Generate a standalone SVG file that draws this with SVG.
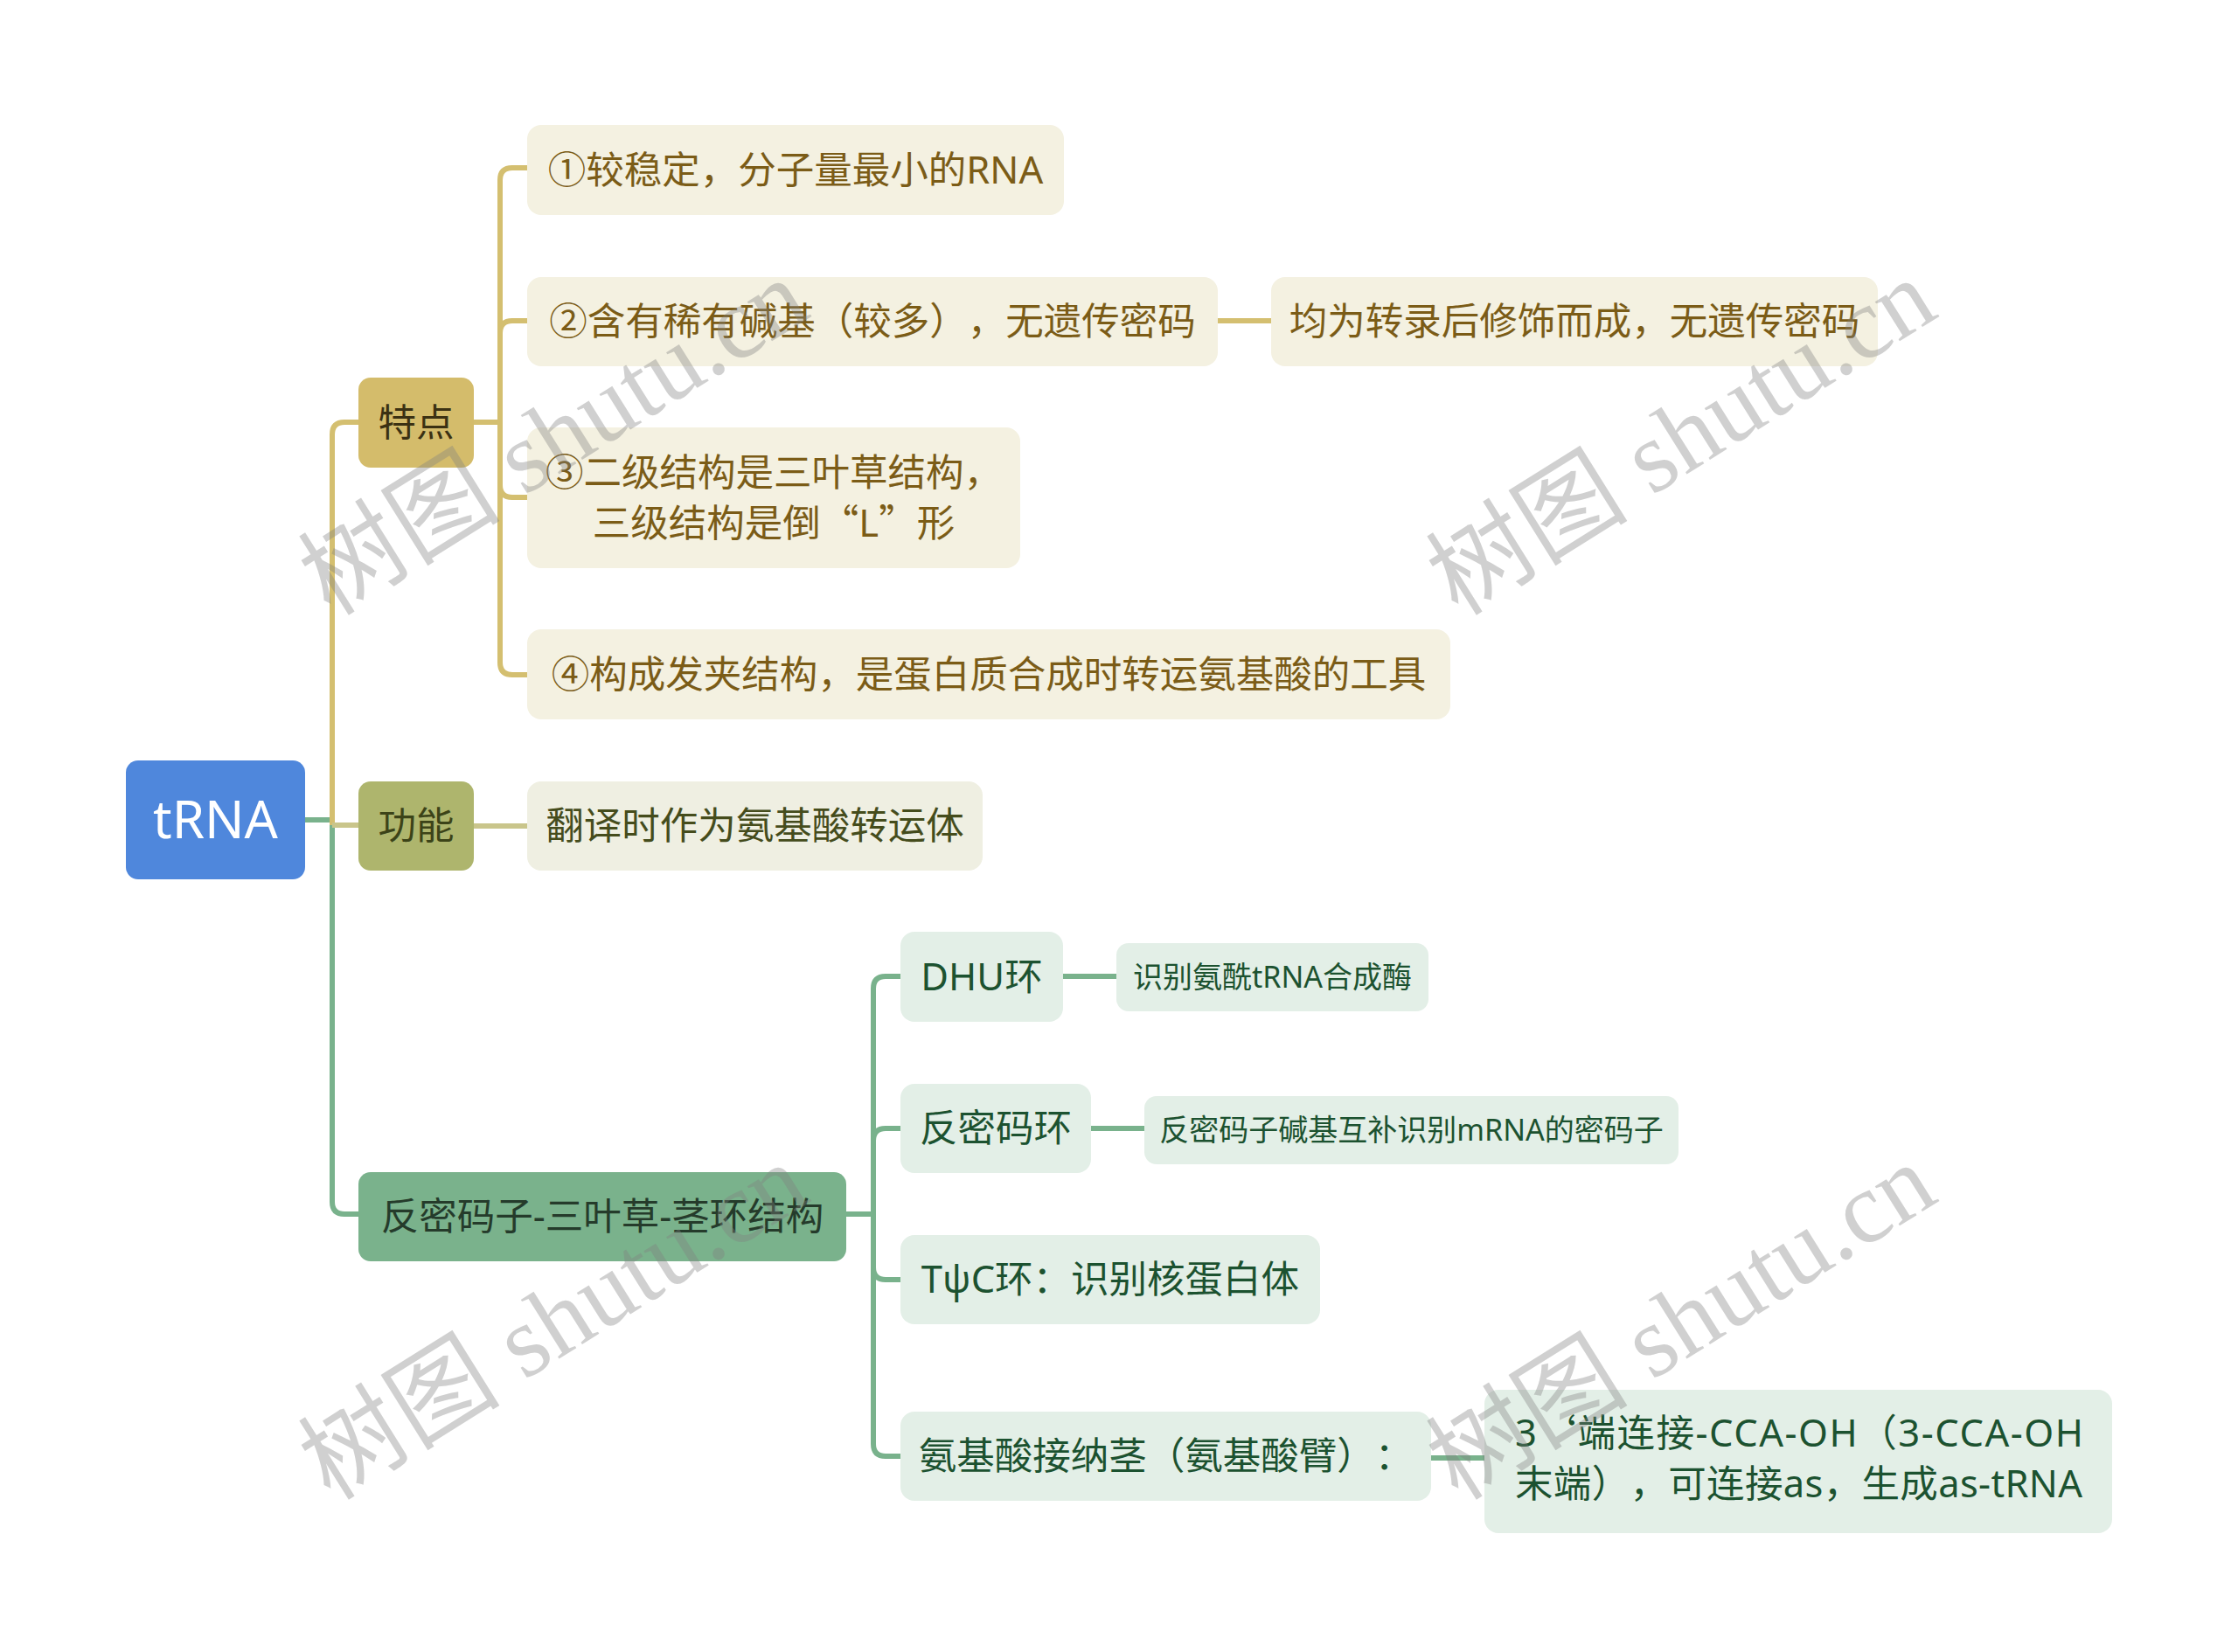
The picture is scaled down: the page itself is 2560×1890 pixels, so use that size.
<svg xmlns="http://www.w3.org/2000/svg" width="2560" height="1890" viewBox="0 0 2560 1890">
<style>
text{font-family:"Noto Sans","Noto Sans CJK SC",sans-serif;text-spacing-trim:space-all;}
.cjk{font-family:"Noto Sans CJK SC",sans-serif;}
.c{text-anchor:middle;}
.f43{font-size:43.5px;}
.f34{font-size:34px;}
.gold-n{fill:#d4bc6b;}
.gold-t{fill:#3b3113;}
.cream{fill:#f4f1e1;}
.cream-t{fill:#7b5c17;}
.olive-n{fill:#aeb56d;}
.olive-t{fill:#3c4318;}
.olive-c{fill:#efefe2;}
.olive-ct{fill:#454c1c;}
.green-n{fill:#7ab28c;}
.green-t{fill:#253b2b;}
.lgreen{fill:#e3efe7;}
.lgreen-t{fill:#1c5230;}
.ln{fill:none;stroke-width:6;stroke-linecap:butt;}
.lg{stroke:#d4bf70;}
.lo{stroke:#c9c58b;}
.lgr{stroke:#79b28c;}
.wm{font-family:"Liberation Serif","Noto Sans CJK SC",serif;font-size:116px;fill:#808080;opacity:0.36;}
</style>

<g id="connectors">
  <path class="ln lgr" d="M349,938 H380 V1375 Q380,1389 394,1389 H410"/>
  <path class="ln lg" d="M380,944 V497 Q380,483 394,483 H410"/>
  <path class="ln lo" d="M380,944 H410"/>
  <path class="ln lg" d="M542,483 H572"/>
  <path class="ln lg" d="M603,192 H586 Q572,192 572,206 V758 Q572,772 586,772 H603"/>
  <path class="ln lg" d="M572,381 Q572,367 586,367 H603"/>
  <path class="ln lg" d="M572,555 Q572,569 586,569 H603"/>
  <path class="ln lg" d="M1393,367 H1454"/>
  <path class="ln lo" d="M542,945 H603"/>
  <path class="ln lgr" d="M968,1389 H999"/>
  <path class="ln lgr" d="M1030,1117 H1013 Q999,1117 999,1131 V1652 Q999,1666 1013,1666 H1030"/>
  <path class="ln lgr" d="M999,1305 Q999,1291 1013,1291 H1030"/>
  <path class="ln lgr" d="M999,1450 Q999,1464 1013,1464 H1030"/>
  <path class="ln lgr" d="M1216,1117 H1277"/>
  <path class="ln lgr" d="M1248,1291 H1309"/>
  <path class="ln lgr" d="M1637,1668 H1698"/>
</g>

<g id="node-trna">
  <rect x="144" y="870" width="205" height="136" rx="14" fill="#4f87dc"/>
  <text x="246.5" y="959" class="c" font-size="60" fill="#ffffff">tRNA</text>
</g>

<g id="node-tedian">
  <rect class="gold-n" x="410" y="432" width="132" height="103" rx="14"/>
  <text class="c f43 gold-t" x="476" y="499">特点</text>
</g>
<g id="node-t1">
  <rect class="cream" x="603" y="143" width="614" height="103" rx="16"/>
  <text class="c f43 cream-t" x="910" y="210">①较稳定，分子量最小的RNA</text>
</g>
<g id="node-t2">
  <rect class="cream" x="603" y="317" width="790" height="102" rx="16"/>
  <text class="c f43 cream-t" x="998" y="383">②含有稀有碱基（较多），无遗传密码</text>
</g>
<g id="node-t2a">
  <rect class="cream" x="1454" y="317" width="694" height="102" rx="16"/>
  <text class="c f43 cream-t" x="1801" y="383">均为转录后修饰而成，无遗传密码</text>
</g>
<g id="node-t3">
  <rect class="cream" x="603" y="489" width="564" height="161" rx="16"/>
  <text class="c f43 cream-t" x="885" y="556">③二级结构是三叶草结构，</text>
  <text class="c f43 cream-t" x="885" y="614">三级结构是倒<tspan class="cjk">“</tspan>L<tspan class="cjk">”</tspan>形</text>
</g>
<g id="node-t4">
  <rect class="cream" x="603" y="720" width="1056" height="103" rx="16"/>
  <text class="c f43 cream-t" x="1131" y="787">④构成发夹结构，是蛋白质合成时转运氨基酸的工具</text>
</g>

<g id="node-gongneng">
  <rect class="olive-n" x="410" y="894" width="132" height="102" rx="14"/>
  <text class="c f43 olive-t" x="476" y="960">功能</text>
</g>
<g id="node-g1">
  <rect class="olive-c" x="603" y="894" width="521" height="102" rx="16"/>
  <text class="c f43 olive-ct" x="863.5" y="960">翻译时作为氨基酸转运体</text>
</g>

<g id="node-struct">
  <rect class="green-n" x="410" y="1341" width="558" height="102" rx="14"/>
  <text class="c f43 green-t" x="689" y="1407">反密码子-三叶草-茎环结构</text>
</g>
<g id="node-dhu">
  <rect class="lgreen" x="1030" y="1066" width="186" height="103" rx="16"/>
  <text class="c f43 lgreen-t" x="1123" y="1133">DHU环</text>
</g>
<g id="node-dhu1">
  <rect class="lgreen" x="1277" y="1079" width="357" height="78" rx="14"/>
  <text class="c f34 lgreen-t" x="1455.5" y="1130">识别氨酰tRNA合成酶</text>
</g>
<g id="node-anti">
  <rect class="lgreen" x="1030" y="1240" width="218" height="102" rx="16"/>
  <text class="c f43 lgreen-t" x="1139" y="1306">反密码环</text>
</g>
<g id="node-anti1">
  <rect class="lgreen" x="1309" y="1254" width="611" height="78" rx="14"/>
  <text class="c f34 lgreen-t" x="1614.5" y="1305">反密码子碱基互补识别mRNA的密码子</text>
</g>
<g id="node-tpc">
  <rect class="lgreen" x="1030" y="1413" width="480" height="102" rx="16"/>
  <text class="c f43 lgreen-t" x="1270" y="1479">TψC环：识别核蛋白体</text>
</g>
<g id="node-stem">
  <rect class="lgreen" x="1030" y="1615" width="607" height="102" rx="16"/>
  <text class="c f43 lgreen-t" x="1333.5" y="1681">氨基酸接纳茎（氨基酸臂）：</text>
</g>
<g id="node-stem1">
  <rect class="lgreen" x="1698" y="1590" width="718" height="164" rx="16"/>
  <text class="f43 lgreen-t" x="1733" y="1655" textLength="650" lengthAdjust="spacing">3<tspan class="cjk">‘</tspan>端连接-CCA-OH（3-CCA-OH</text>
  <text class="f43 lgreen-t" x="1733" y="1713" textLength="649" lengthAdjust="spacing">末端），可连接as，生成as-tRNA</text>
</g>

<g id="watermarks">
  <text class="wm" transform="translate(378,706) rotate(-32)">树图 shutu.cn</text>
  <text class="wm" transform="translate(1668,706) rotate(-32)">树图 shutu.cn</text>
  <text class="wm" transform="translate(378,1718) rotate(-32)">树图 shutu.cn</text>
  <text class="wm" transform="translate(1668,1718) rotate(-32)">树图 shutu.cn</text>
</g>
</svg>
